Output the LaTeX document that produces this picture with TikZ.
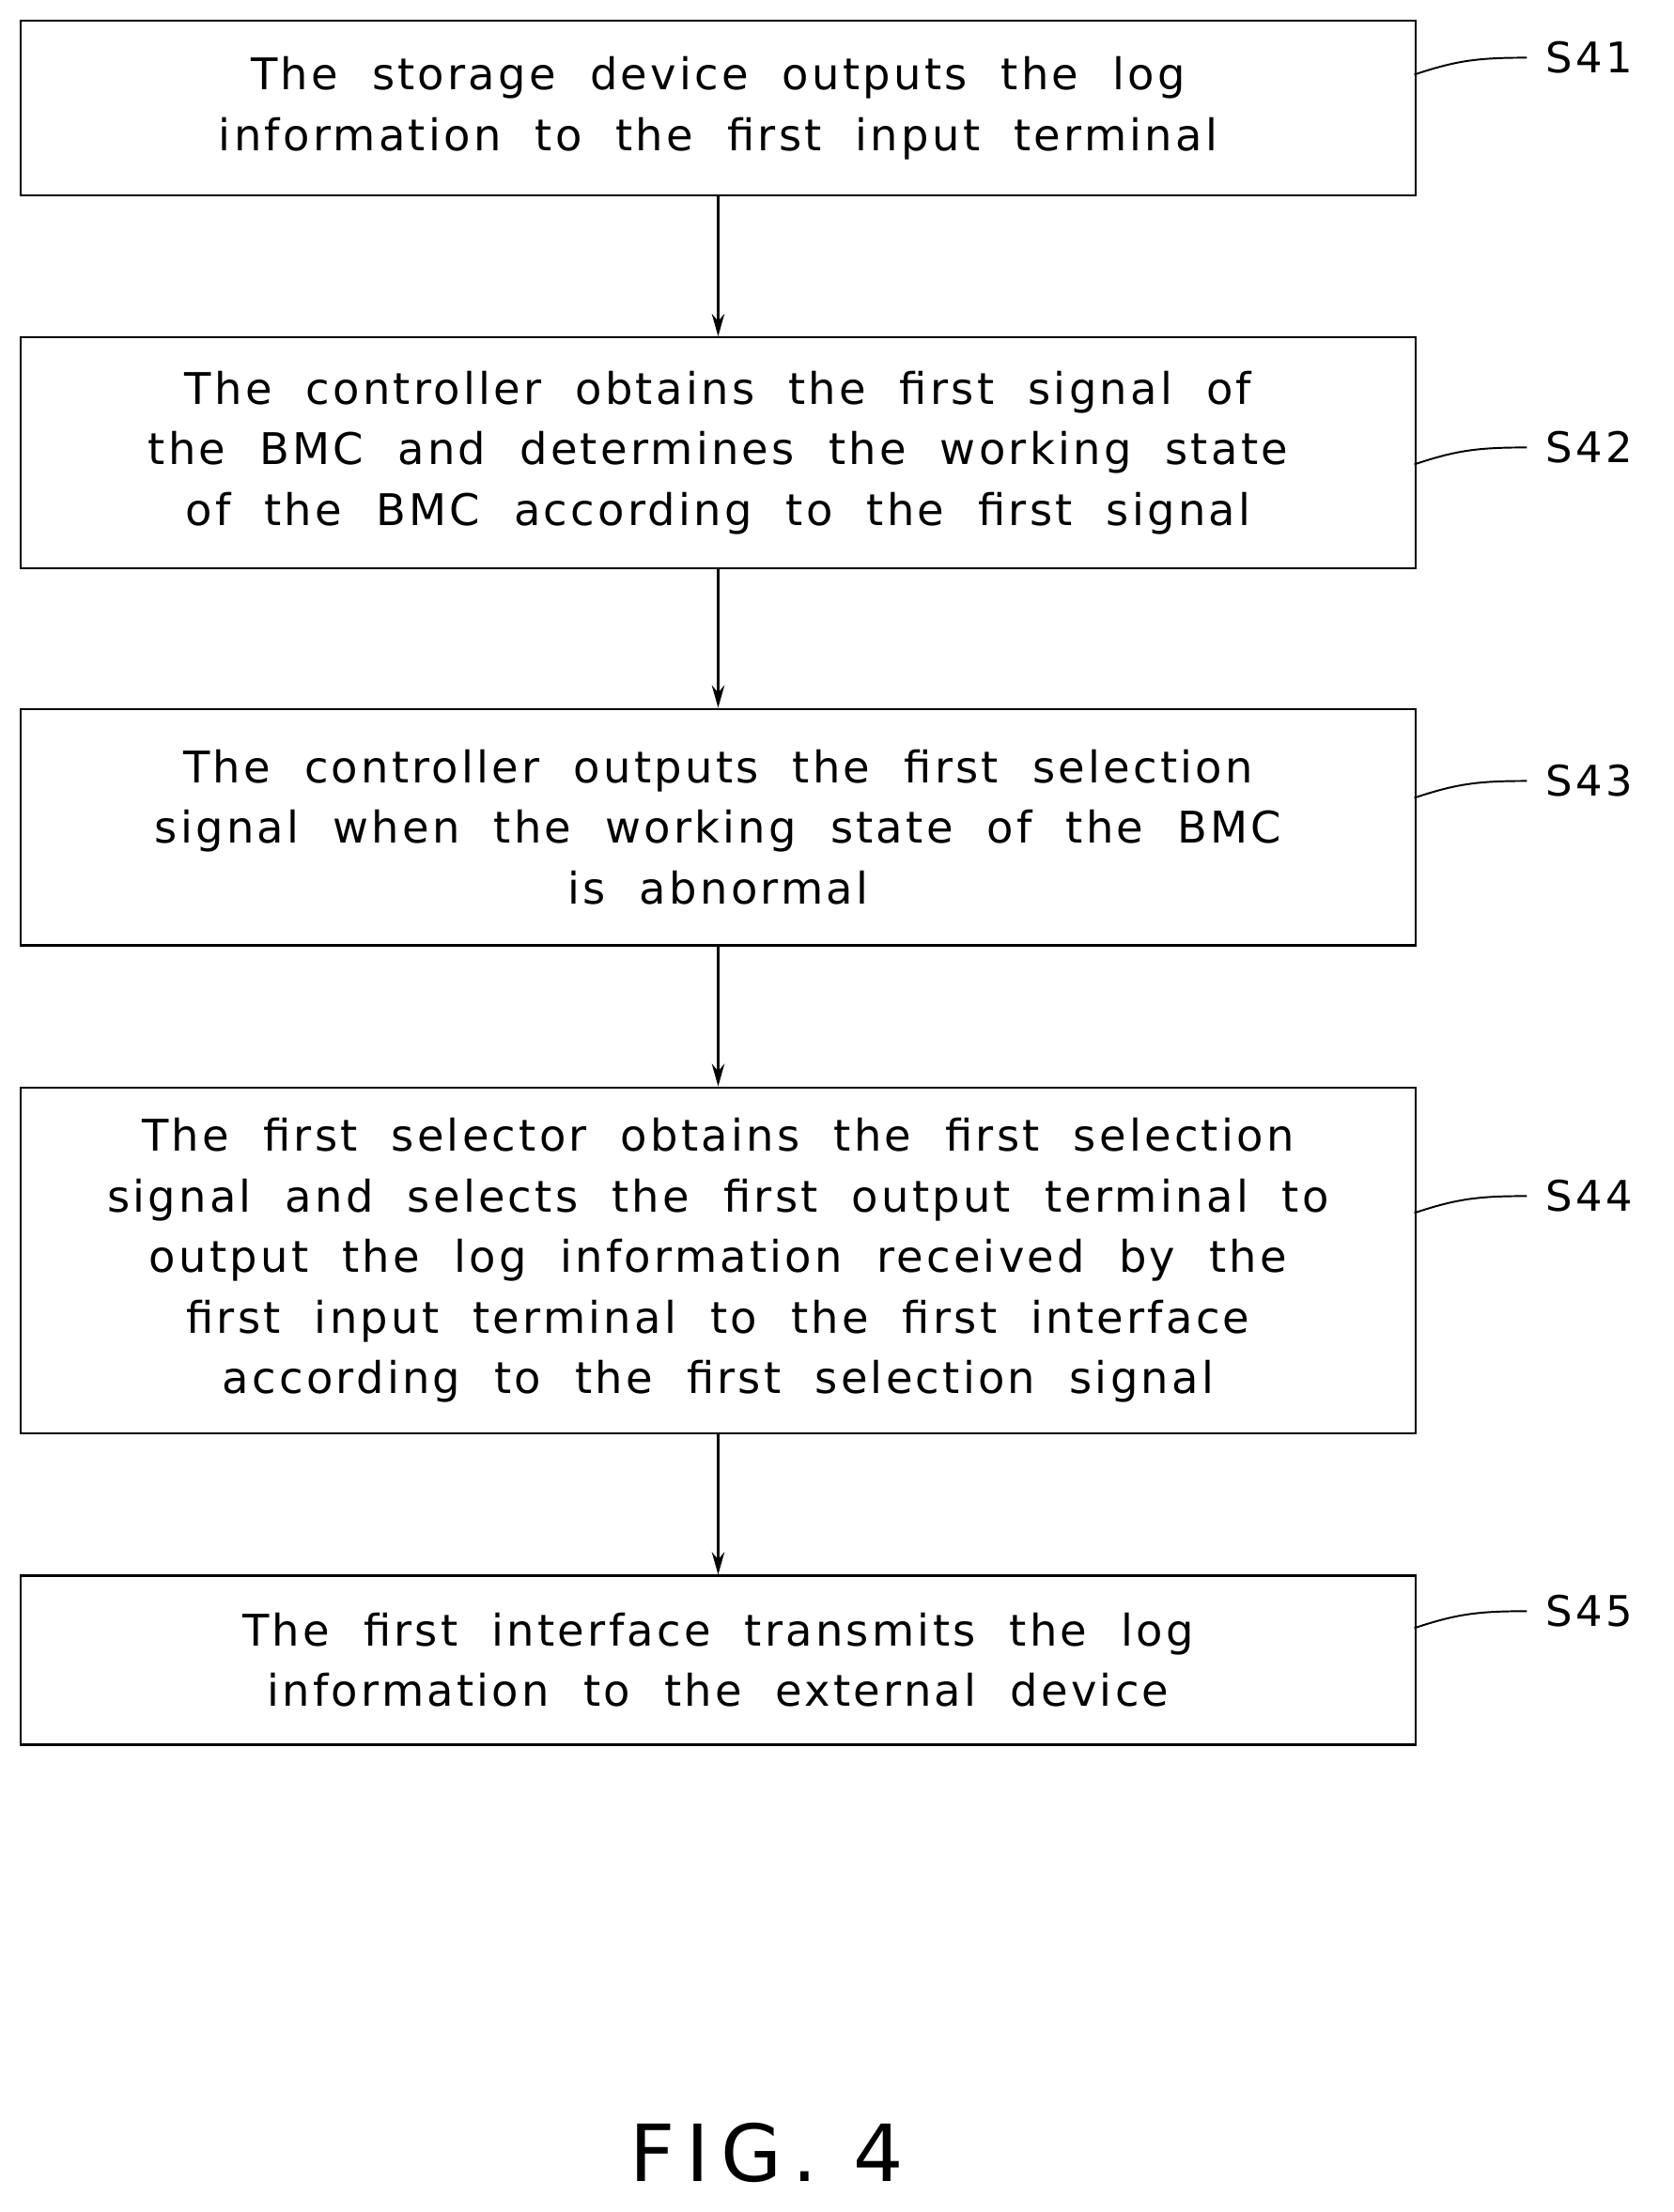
\documentclass[tikz,border=0pt]{standalone}
\usetikzlibrary{arrows.meta}
\usepackage{fontspec}
\setmainfont{DejaVu Sans}[LetterSpace=7,WordSpace=2.0]
\newfontfamily\figfont{DejaVu Sans}[LetterSpace=14]
\begin{document}
\begin{tikzpicture}[x=1pt,y=-1pt,
  box/.style={draw,line width=1.6pt,inner sep=0pt},
  txt/.style={align=center,font=\fontsize{31}{43}\selectfont},
  arr/.style={-{Stealth[length=16pt,width=9pt]},line width=1.5pt},
  lab/.style={font=\fontsize{30}{32}\selectfont,anchor=west},
  lead/.style={line width=1.3pt}]
\useasboundingbox (0,0) rectangle (1189,1572);
\newcommand{\step}[5]{%
  \node[box,minimum width=991pt,minimum height=#3pt,anchor=north west] (b#1) at (14,#2) {};
  \node[txt] (t#1) at (b#1.center) {#4};
  \coordinate (e#1) at (1005,#5+12);
  \coordinate (k#1) at (1085,#5);
  \draw[lead] (e#1) .. controls (1035,#5+2) and (1050,#5) .. (k#1);
  \node[lab] (l#1) at (1095,#5) {S4#1};}
\step{1}{14}{124}{The storage device outputs the log\\information to the first input terminal}{41}
\step{2}{239}{164}{The controller obtains the first signal of\\the BMC and determines the working state\\of the BMC according to the first signal}{318}
\step{3}{503}{168}{The controller outputs the first selection\\signal when the working state of the BMC\\is abnormal}{555}
\step{4}{772}{246}{The first selector obtains the first selection\\signal and selects the first output terminal to\\output the log information received by the\\first input terminal to the first interface\\according to the first selection signal}{850}
\step{5}{1119}{120}{The first interface transmits the log\\information to the external device}{1145}
\foreach \a/\b in {1/2,2/3,3/4,4/5} \draw[arr] (b\a.south) -- (b\b.north);
\node[font=\fontsize{56}{60}\selectfont\figfont] (fig) at (545,1530) {FIG. 4};
\end{tikzpicture}
\end{document}
